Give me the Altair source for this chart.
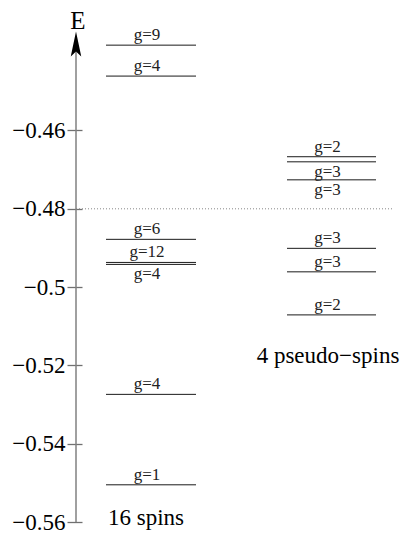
import altair as alt
import pandas as pd

# ---- data ----
left_energy = [-0.4382, -0.4461, -0.4878, -0.4937, -0.4942, -0.5274, -0.5505]
left_degeneracy = [9, 4, 6, 12, 4, 4, 1]
left_label_side = ["above", "above", "above", "above", "below", "above", "above"]

right_energy = [-0.4667, -0.4680, -0.4726, -0.4901, -0.4961, -0.5071]
right_degeneracy = [2, 3, 3, 3, 3, 2]
right_label_side = ["above", "below", "below", "above", "above", "above"]

tick_values = [-0.56, -0.54, -0.52, -0.50, -0.48, -0.46]
reference_energy = [-0.48]
axis_start = [-0.56]
axis_title = "E"
left_caption = "16 spins"
right_caption = "4 pseudo−spins"

# ---- layout ----
FONT = "Liberation Serif"
W, H = 392, 528
PX_PER_UNIT = 3915.0
E_BOTTOM = -0.56 - 14 / PX_PER_UNIT
E_TOP = E_BOTTOM + H / PX_PER_UNIT
AXIS_X = 68
LEFT_X = (98, 188)
RIGHT_X = (279, 368)
LINE_COLOR = "#1a1a1a"

yscale = alt.Scale(domain=[E_BOTTOM, E_TOP], nice=False, zero=False)
yaxis = alt.Axis(
    values=tick_values,
    format=".2~f",
    offset=-74,
    tickSize=15,
    tickWidth=1.3,
    tickColor="#707070",
    domain=False,
    grid=False,
    title=None,
    labelFont=FONT,
    labelFontSize=23,
    labelColor="black",
    labelPadding=2,
)


def Y():
    return alt.Y("E:Q", scale=yscale, axis=yaxis)


def levels_df(energy, g, side):
    return pd.DataFrame({"E": energy, "label": [f"g={v}" for v in g], "side": side})


left_df = levels_df(left_energy, left_degeneracy, left_label_side)
right_df = levels_df(right_energy, right_degeneracy, right_label_side)
one = pd.DataFrame({"a": [0]})

axis_layer = alt.Chart(pd.DataFrame({"E": axis_start})).mark_rule(
    color="#808080", strokeWidth=1.5
).encode(x=alt.value(AXIS_X), y=Y(), y2=alt.value(42))

arrow = alt.Chart(one).mark_point(
    shape="M0,-1 L0.42,1 L0,0.6 L-0.42,1 Z",
    size=625,
    filled=True,
    color="black",
    opacity=1,
).encode(x=alt.value(AXIS_X), y=alt.value(36))

title_text = alt.Chart(one).mark_text(
    text=axis_title, font=FONT, fontSize=25, color="black", baseline="top", align="center"
).encode(x=alt.value(70), y=alt.value(1))

dotted = alt.Chart(pd.DataFrame({"E": reference_energy})).mark_rule(
    color="#888888", strokeDash=[1, 2], strokeWidth=1
).encode(y=Y(), x=alt.value(AXIS_X), x2=alt.value(385))


def column(df, xr):
    cx = (xr[0] + xr[1]) / 2 - 4
    lines = alt.Chart(df).mark_rule(color=LINE_COLOR, strokeWidth=1).encode(
        y=Y(), x=alt.value(xr[0]), x2=alt.value(xr[1])
    )
    above = alt.Chart(df).transform_filter(alt.datum.side == "above").mark_text(
        font=FONT, fontSize=17, color="#222222", baseline="alphabetic", align="center", dy=-5
    ).encode(y=Y(), x=alt.value(cx), text="label:N")
    below = alt.Chart(df).transform_filter(alt.datum.side == "below").mark_text(
        font=FONT, fontSize=17, color="#222222", baseline="alphabetic", align="center", dy=15
    ).encode(y=Y(), x=alt.value(cx), text="label:N")
    return [lines, above, below]


left_caption_mark = alt.Chart(one).mark_text(
    text=left_caption, font=FONT, fontSize=23, color="black", baseline="alphabetic", align="center"
).encode(x=alt.value(138), y=alt.value(517))

right_caption_mark = alt.Chart(one).mark_text(
    text=right_caption, font=FONT, fontSize=23, color="black", baseline="alphabetic", align="center"
).encode(x=alt.value(320), y=alt.value(355))

chart = alt.layer(
    axis_layer,
    dotted,
    *column(left_df, LEFT_X),
    *column(right_df, RIGHT_X),
    arrow,
    title_text,
    left_caption_mark,
    right_caption_mark,
).properties(
    width=W,
    height=H,
    autosize=alt.AutoSizeParams(type="none"),
    padding=0,
).configure_view(stroke=None)

chart.save("out.html", embed_options={"renderer": "svg", "actions": False})
